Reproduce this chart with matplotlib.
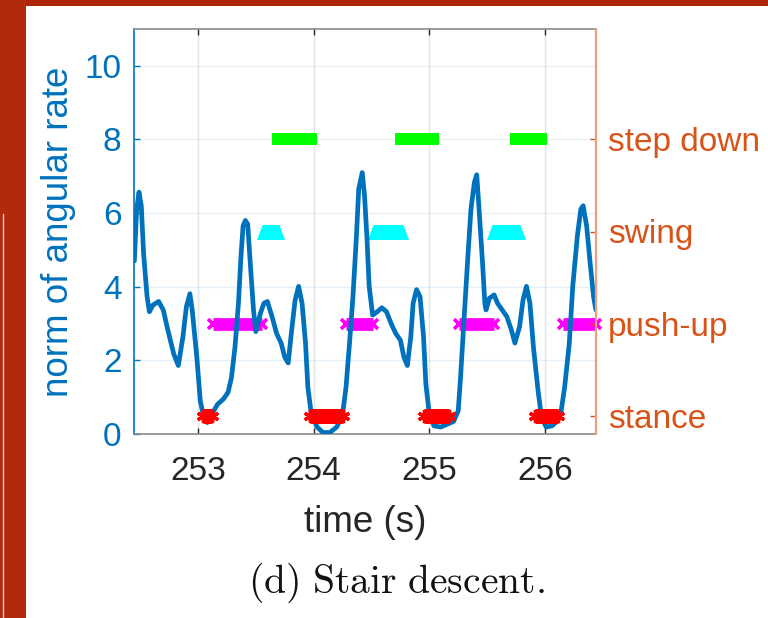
import numpy as np
import matplotlib
matplotlib.use("Agg")
import matplotlib.pyplot as plt
from matplotlib.patches import Rectangle
from matplotlib.lines import Line2D
from matplotlib.path import Path

plt.rcParams['font.family'] = ['Liberation Sans', 'DejaVu Sans']
plt.rcParams['mathtext.fontset'] = 'cm'

# ---------------- data ----------------
time_s = [252.45, 252.47, 252.49, 252.51, 252.53, 252.56, 252.58, 252.61, 252.66, 252.70,
          252.74, 252.79, 252.83, 252.87, 252.90, 252.93, 252.95, 252.99, 253.02, 253.05,
          253.08, 253.12, 253.17, 253.22, 253.26, 253.29, 253.32, 253.35, 253.37, 253.39,
          253.41, 253.43, 253.45, 253.48, 253.50, 253.54, 253.57, 253.60, 253.64, 253.68,
          253.72, 253.75, 253.78, 253.81, 253.84, 253.87, 253.90, 253.93, 253.95, 253.98,
          254.03, 254.08, 254.14, 254.20, 254.25, 254.28, 254.31, 254.34, 254.37, 254.39,
          254.42, 254.44, 254.46, 254.48, 254.51, 254.55, 254.59, 254.63, 254.67, 254.71,
          254.75, 254.78, 254.81, 254.84, 254.86, 254.89, 254.92, 254.95, 254.97, 255.00,
          255.04, 255.10, 255.15, 255.21, 255.25, 255.27, 255.30, 255.33, 255.36, 255.39,
          255.41, 255.43, 255.46, 255.48, 255.49, 255.52, 255.56, 255.59, 255.63, 255.67,
          255.71, 255.74, 255.78, 255.81, 255.84, 255.87, 255.90, 255.94, 255.97, 256.01,
          256.06, 256.11, 256.14, 256.17, 256.21, 256.24, 256.28, 256.31, 256.33, 256.36,
          256.39, 256.42, 256.44]
angular_rate = [4.70, 6.10, 6.57, 6.20, 4.90, 3.73, 3.32, 3.50, 3.60, 3.37,
                2.82, 2.18, 1.86, 2.64, 3.46, 3.81, 3.37, 2.09, 0.90, 0.45,
                0.31, 0.54, 0.81, 0.95, 1.13, 1.54, 2.36, 3.55, 4.74, 5.65,
                5.80, 5.70, 4.74, 3.37, 2.78, 3.28, 3.55, 3.60, 3.19, 2.73,
                2.46, 2.09, 1.93, 2.82, 3.64, 4.01, 3.55, 2.46, 1.27, 0.54,
                0.19, 0.04, 0.04, 0.19, 0.54, 1.27, 2.46, 3.73, 5.38, 6.66,
                7.10, 6.47, 5.38, 4.01, 3.23, 3.32, 3.43, 3.32, 3.00, 2.73,
                2.55, 2.09, 1.86, 2.64, 3.55, 3.92, 3.73, 2.64, 1.36, 0.54,
                0.22, 0.19, 0.26, 0.34, 0.63, 1.54, 3.10, 4.65, 6.11, 6.84,
                7.04, 6.11, 4.65, 3.55, 3.37, 3.69, 3.78, 3.55, 3.37, 3.19,
                2.82, 2.47, 2.91, 3.64, 4.01, 3.55, 2.36, 1.18, 0.45, 0.19,
                0.22, 0.36, 0.63, 1.27, 2.46, 4.01, 5.38, 6.11, 6.20, 5.65,
                4.65, 3.73, 3.37]

phase_names = ['stance', 'push-up', 'swing', 'step down']
phase_levels = [0.5, 3.0, 5.5, 8.0]

stance_intervals = [(253.04, 253.12), (253.97, 254.25), (254.95, 255.17), (255.91, 256.11)]
pushup_intervals = [(253.13, 253.55), (254.28, 254.51), (255.26, 255.56), (256.16, 256.44)]
swing_intervals = [(253.55, 253.70), (254.51, 254.77), (255.54, 255.78)]
stepdown_intervals = [(253.64, 254.03), (254.70, 255.08), (255.70, 256.02)]

x_ticks = [253, 254, 255, 256]
y_ticks = [0, 2, 4, 6, 8, 10]

# ---------------- figure ----------------
W, H = 768, 618
fig = plt.figure(figsize=(W / 100, H / 100), dpi=100)
fig.patch.set_facecolor('white')

red_bg = '#B3290C'
fig.patches.append(Rectangle((0, 1 - 6 / H), 1, 6 / H, transform=fig.transFigure,
                             facecolor='#AE2409', edgecolor='none', zorder=0))
fig.patches.append(Rectangle((0, 0), 26 / W, 1, transform=fig.transFigure,
                             facecolor=red_bg, edgecolor='none', zorder=0))
fig.lines.append(Line2D([2.5 / W, 2.5 / W], [0, 1 - 214 / H], transform=fig.transFigure,
                        color='#E9CFC7', lw=1.0))

ax = fig.add_axes([134 / W, 1 - 434 / H, (596 - 134) / W, (434 - 29) / H])
ax.set_xlim(252.447, 256.441)
ax.set_ylim(0, 11)

blue = '#0072BD'
orange = '#D95319'
dark = '#262626'

ax.xaxis.grid(True, color=dark, alpha=0.12, lw=1.0)
ax.yaxis.grid(True, color=blue, alpha=0.10, lw=1.0)
ax.set_axisbelow(True)

# phase bands
sw_marker = Path([(0, 1), (-0.73, -1), (0.73, -1), (0, 1)],
                 [Path.MOVETO, Path.LINETO, Path.LINETO, Path.CLOSEPOLY])

for a, b in stepdown_intervals:
    ax.plot([a, b], [phase_levels[3]] * 2, color='#00FF00', lw=8.6,
            solid_capstyle='butt', zorder=3)
for a, b in swing_intervals:
    ax.plot([a, b], [phase_levels[2]] * 2, color='#00FFFF', lw=10.8,
            solid_capstyle='butt', marker=sw_marker, markersize=10.8,
            markerfacecolor='#00FFFF', markeredgecolor='none', zorder=3)
for a, b in pushup_intervals:
    ax.plot([a, b], [phase_levels[1]] * 2, color='#FF00FF', lw=9.2,
            solid_capstyle='butt', marker='x', markersize=7.5, markeredgewidth=2.6,
            markeredgecolor='#FF00FF', zorder=3, clip_on=False)

ax.plot(time_s, angular_rate, color=blue, lw=3.4, solid_joinstyle='round',
        solid_capstyle='round', zorder=4)

for a, b in stance_intervals:
    ax.plot([a, b], [phase_levels[0]] * 2, color='#FF0000', lw=10.8,
            solid_capstyle='butt', marker=(6, 2, 0), markersize=9.5,
            markeredgewidth=2.4, markeredgecolor='#FF0000', zorder=5)

# axes styling
ax.set_xticks(x_ticks)
ax.set_xticklabels([str(v) for v in x_ticks])
ax.set_yticks(y_ticks)
ax.tick_params(axis='x', direction='in', length=4, width=1, colors=dark,
               labelsize=24, pad=16, top=True)
ax.tick_params(axis='y', direction='in', length=4, width=1, colors=blue,
               labelsize=24, pad=9)
for lab in ax.get_xticklabels():
    lab.set_color(dark)
ax.spines['left'].set_color(blue)
ax.spines['left'].set_linewidth(1.2)
ax.spines['bottom'].set_color('#8a8a8a')
ax.spines['top'].set_color('#8a8a8a')
ax.spines['bottom'].set_linewidth(1.2)
ax.spines['top'].set_linewidth(1.2)
ax.spines['right'].set_visible(False)

ax.set_xlabel('time (s)', fontsize=26.5, color=dark, labelpad=13)
ax.set_ylabel('norm of angular rate', fontsize=26.5, color=blue, labelpad=6)

ax2 = ax.twinx()
ax2.set_ylim(0, 11)
ax2.set_yticks(phase_levels)
ax2.set_yticklabels(phase_names)
ax2.tick_params(axis='y', direction='in', length=4, width=1, colors=orange,
                labelsize=24, pad=8.5)
for s in ['left', 'top', 'bottom']:
    ax2.spines[s].set_visible(False)
ax2.spines['right'].set_color('#EE9E80')
ax2.spines['right'].set_linewidth(1.6)

fig.text(396 / W, 1 - 583 / H, r'$\mathrm{(d)\ Stair\ descent.}$', fontsize=28.5,
         ha='center', va='center', color='#111111')

fig.savefig('out.png', dpi=100, facecolor=fig.get_facecolor())
